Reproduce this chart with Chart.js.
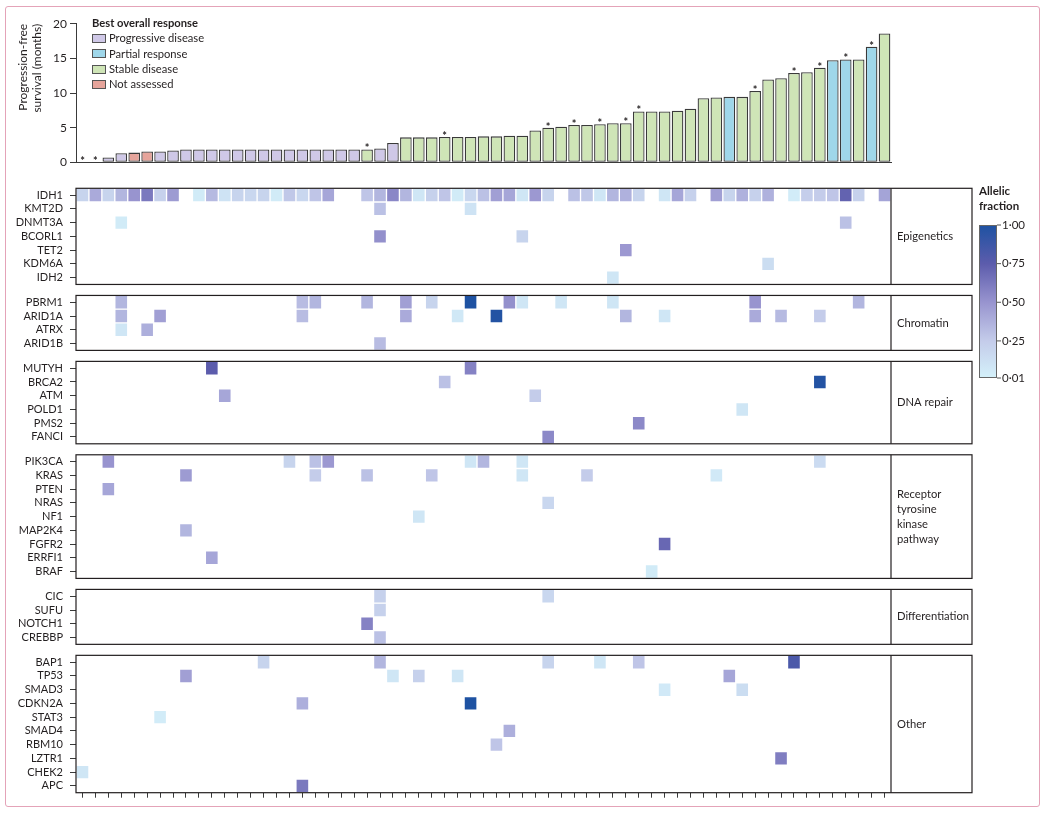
<!DOCTYPE html>
<html><head><meta charset="utf-8">
<script src="https://cdn.jsdelivr.net/npm/chart.js@4.4.1/dist/chart.umd.min.js"></script>
<style>
html,body{margin:0;padding:0;background:#fff;}
#wrap{position:relative;width:1050px;height:814px;overflow:hidden;font-family:Lato,"Liberation Sans",sans-serif;color:#231f20;}
#frame{position:absolute;left:5px;top:6px;width:1035px;height:801px;border:1.5px solid #e4a3b8;border-radius:3px;box-sizing:border-box;}
#c1{position:absolute;left:0;top:0;}
#c2{position:absolute;left:0;top:175px;}
.lg{position:absolute;font-size:11.2px;line-height:14px;white-space:nowrap;}
.lgbox{position:absolute;width:14px;height:9px;border:1px solid #555;box-sizing:border-box;}
</style></head>
<body>
<div id="wrap">
  <div id="frame"></div>
  <canvas id="c1" width="1050" height="175"></canvas>
  <canvas id="c2" width="1050" height="639"></canvas>
  <div id="legend"></div>
</div>
<script>
// ---------------- DATA ----------------
const patients = ['1','2','3','4','5','6','7','8','9','10','11','12','13','14','15','16','17','18','19','20','21','22','23','24','25','26','27','28','29','30','31','32','33','34','35','36','37','38','39','40','41','42','43','44','45','46','47','48','49','50','51','52','53','54','55','56','57','58','59','60','61','62','63'];
const pfsMonths = [0,0,0.7,1.3,1.4,1.55,1.55,1.7,1.85,1.85,1.85,1.85,1.85,1.85,1.85,1.85,1.85,1.85,1.85,1.85,1.85,1.85,1.85,2.0,2.8,
  3.6,3.6,3.6,3.65,3.65,3.65,3.75,3.75,3.85,3.85,4.6,5.0,5.15,5.4,5.4,5.5,5.65,5.65,7.35,7.35,7.35,7.45,7.75,
  9.25,9.35,9.45,9.45,10.3,11.95,12.15,12.9,13.0,13.65,14.75,14.85,14.85,16.7,18.6];
const bestResponse = ['PD','PD','PD','PD','NA','NA','PD','PD','PD','PD','PD','PD','PD','PD','PD','PD','PD','PD','PD','PD','PD','PD','SD','PD','PD',
  'SD','SD','SD','SD','SD','SD','SD','SD','SD','SD','SD','SD','SD','SD','SD','SD','SD','SD','SD','SD','SD','SD','SD',
  'SD','SD','PR','SD','SD','SD','SD','SD','SD','SD','PR','PR','SD','PR','SD'];
const starredPatients = [0,1,22,28,36,38,40,42,43,52,55,57,59,61];
const responseCodes = ['PD','PR','SD','NA'];
const responseNames = ['Progressive disease','Partial response','Stable disease','Not assessed'];
const responseColors = ['#cfc8e7','#9fd7ea','#cfe5b7','#e6a49b'];
const pfsTicks = [0,5,10,15,20];

// gene panels: [gene, patientIndex, allelic fraction]
const epigeneticsGenes = ['IDH1','KMT2D','DNMT3A','BCORL1','TET2','KDM6A','IDH2'];
const epigeneticsCells = [
 ['IDH1',0,.20],['IDH1',1,.40],['IDH1',2,.20],['IDH1',3,.35],['IDH1',4,.50],['IDH1',5,.62],['IDH1',6,.22],['IDH1',7,.47],
 ['IDH1',9,.05],['IDH1',10,.33],['IDH1',11,.10],['IDH1',12,.20],['IDH1',13,.18],['IDH1',14,.20],['IDH1',15,.05],['IDH1',16,.27],
 ['IDH1',17,.18],['IDH1',18,.28],['IDH1',19,.42],['IDH1',22,.28],['IDH1',23,.35],['IDH1',24,.56],['IDH1',25,.35],['IDH1',26,.08],
 ['IDH1',27,.22],['IDH1',28,.28],['IDH1',29,.05],['IDH1',30,.18],['IDH1',31,.30],['IDH1',32,.45],['IDH1',33,.42],['IDH1',34,.08],
 ['IDH1',35,.48],['IDH1',36,.20],['IDH1',38,.30],['IDH1',39,.27],['IDH1',40,.08],['IDH1',41,.35],['IDH1',42,.37],['IDH1',43,.20],
 ['IDH1',45,.08],['IDH1',46,.42],['IDH1',47,.22],['IDH1',49,.45],['IDH1',50,.20],['IDH1',51,.37],['IDH1',52,.22],['IDH1',53,.37],
 ['IDH1',55,.04],['IDH1',56,.24],['IDH1',57,.25],['IDH1',58,.28],['IDH1',59,.72],['IDH1',60,.22],['IDH1',62,.43],
 ['KMT2D',23,.30],['KMT2D',30,.10],['DNMT3A',3,.05],['DNMT3A',59,.30],['BCORL1',23,.52],['BCORL1',34,.20],
 ['TET2',42,.48],['KDM6A',53,.14],['IDH2',41,.08]
];
const chromatinGenes = ['PBRM1','ARID1A','ATRX','ARID1B'];
const chromatinCells = [
 ['PBRM1',3,.35],['PBRM1',17,.32],['PBRM1',18,.35],['PBRM1',22,.35],['PBRM1',25,.45],['PBRM1',27,.20],['PBRM1',30,1.0],
 ['PBRM1',33,.52],['PBRM1',34,.08],['PBRM1',37,.08],['PBRM1',41,.08],['PBRM1',52,.50],['PBRM1',60,.35],
 ['ARID1A',3,.35],['ARID1A',6,.45],['ARID1A',17,.32],['ARID1A',25,.40],['ARID1A',29,.07],['ARID1A',32,.98],['ARID1A',42,.35],
 ['ARID1A',45,.08],['ARID1A',52,.40],['ARID1A',54,.33],['ARID1A',57,.25],
 ['ATRX',3,.08],['ATRX',5,.38],['ARID1B',23,.32]
];
const dnaRepairGenes = ['MUTYH','BRCA2','ATM','POLD1','PMS2','FANCI'];
const dnaRepairCells = [
 ['MUTYH',10,.75],['MUTYH',30,.58],['BRCA2',28,.30],['BRCA2',57,.98],['ATM',11,.42],['ATM',35,.25],
 ['POLD1',51,.08],['PMS2',43,.55],['FANCI',36,.55]
];
const rtkGenes = ['PIK3CA','KRAS','PTEN','NRAS','NF1','MAP2K4','FGFR2','ERRFI1','BRAF'];
const rtkCells = [
 ['PIK3CA',2,.50],['PIK3CA',16,.20],['PIK3CA',18,.30],['PIK3CA',19,.48],['PIK3CA',30,.08],['PIK3CA',31,.35],['PIK3CA',34,.08],['PIK3CA',57,.15],
 ['KRAS',8,.47],['KRAS',18,.25],['KRAS',22,.30],['KRAS',27,.28],['KRAS',34,.08],['KRAS',39,.25],['KRAS',49,.06],
 ['PTEN',2,.42],['NRAS',36,.18],['NF1',26,.08],['MAP2K4',8,.35],['FGFR2',45,.70],['ERRFI1',10,.42],['BRAF',44,.05]
];
const differentiationGenes = ['CIC','SUFU','NOTCH1','CREBBP'];
const differentiationCells = [
 ['CIC',23,.22],['CIC',36,.18],['SUFU',23,.22],['NOTCH1',22,.58],['CREBBP',23,.30]
];
const otherGenes = ['BAP1','TP53','SMAD3','CDKN2A','STAT3','SMAD4','RBM10','LZTR1','CHEK2','APC'];
const otherCells = [
 ['BAP1',14,.20],['BAP1',23,.35],['BAP1',36,.20],['BAP1',40,.08],['BAP1',43,.28],['BAP1',55,.82],
 ['TP53',8,.45],['TP53',24,.08],['TP53',26,.22],['TP53',29,.08],['TP53',50,.42],
 ['SMAD3',45,.06],['SMAD3',51,.14],['CDKN2A',17,.38],['CDKN2A',30,1.0],['STAT3',6,.04],
 ['SMAD4',33,.38],['RBM10',32,.28],['LZTR1',54,.60],['CHEK2',0,.08],['APC',17,.62]
];
const panelNames = [['Epigenetics'],['Chromatin'],['DNA repair'],['Receptor','tyrosine','kinase','pathway'],['Differentiation'],['Other']];
const afTickValues = [1.00,0.75,0.50,0.25,0.01];
const afTickLabels = ['1·00','0·75','0·50','0·25','0·01'];
const afStops = [[0.01,[212,241,250]],[0.25,[196,204,234]],[0.50,[152,148,207]],[0.75,[92,92,172]],[1.00,[30,82,162]]];

// ---------------- HELPERS ----------------
const FONT = 'Lato, "Liberation Sans", sans-serif';
Chart.defaults.font.family = FONT;
Chart.defaults.color = '#231f20';
function afColor(v){
  if (v <= afStops[0][0]) return 'rgb('+afStops[0][1].join(',')+')';
  for (let i=1;i<afStops.length;i++){
    if (v <= afStops[i][0]){
      const [a,ca]=afStops[i-1],[b,cb]=afStops[i];const t=(v-a)/(b-a);
      return 'rgb('+ca.map((c,k)=>Math.round(c+(cb[k]-c)*t)).join(',')+')';
    }
  }
  return 'rgb('+afStops[afStops.length-1][1].join(',')+')';
}

// ---------------- LEGEND (HTML) ----------------
(function(){
  const lg=document.getElementById('legend');
  let h='<div class="lg" style="left:92px;top:16px;font-weight:bold;">Best overall response</div>';
  const ys=[38.3,53.5,69,84.2];
  responseNames.forEach((n,i)=>{
    h+='<div class="lgbox" style="left:92px;top:'+(ys[i]-4.5)+'px;background:'+responseColors[i]+'"></div>';
    h+='<div class="lg" style="left:109px;top:'+(ys[i]-7)+'px;">'+n+'</div>';
  });
  lg.innerHTML=h;
})();

// ---------------- BAR CHART ----------------
const starPlugin = {
  id:'stars',
  afterDatasetsDraw(chart){
    const {ctx, scales:{x,y}} = chart;
    ctx.save(); ctx.fillStyle='#231f20'; ctx.font='bold 11px '+FONT; ctx.textAlign='center'; ctx.textBaseline='alphabetic';
    starredPatients.forEach(i=>{ ctx.fillText('*', x.getPixelForValue(i), y.getPixelForValue(pfsMonths[i]) + 3); });
    ctx.restore();
  }
};
new Chart(document.getElementById('c1'), {
  type:'bar',
  data:{ labels: patients, datasets:[{
    data: pfsMonths,
    backgroundColor: bestResponse.map(r=>responseColors[responseCodes.indexOf(r)]),
    borderColor:'#3a3a3a', borderWidth:1.3, borderSkipped:false,
    barPercentage:0.9, categoryPercentage:1
  }]},
  options:{
    responsive:false, animation:false, events:[],
    layout:{padding:{left:0,right:159,top:23.8,bottom:0}},
    plugins:{legend:{display:false}, tooltip:{enabled:false}},
    scales:{
      x:{ type:'category', offset:true, grid:{display:false}, ticks:{display:false},
          border:{display:true,color:'#3a3a3a',width:1}, afterFit(s){ s.height = 12.7; } },
      y:{ min:0, max:20, afterBuildTicks(s){ s.ticks = pfsTicks.map(v=>({value:v})); },
          ticks:{ font:{size:12}, padding:3, color:'#231f20' },
          grid:{ drawOnChartArea:false, tickLength:6, tickColor:'#3a3a3a' },
          border:{ display:true, color:'#3a3a3a', width:1 },
          title:{ display:true, text:['Progression-free','survival (months)'], align:'end', font:{size:12}, padding:{top:16,bottom:0}, color:'#231f20' },
          afterFit(s){ s.width = 76; } }
    }
  },
  plugins:[starPlugin]
});

// ---------------- HEATMAP ----------------
const panels = [
  {genes:epigeneticsGenes, cells:epigeneticsCells},
  {genes:chromatinGenes, cells:chromatinCells},
  {genes:dnaRepairGenes, cells:dnaRepairCells},
  {genes:rtkGenes, cells:rtkCells},
  {genes:differentiationGenes, cells:differentiationCells},
  {genes:otherGenes, cells:otherCells}
];
const GAP = 0.8;
const rowPos = {}; const panelRanges = []; const allGenes = [];
let u = 0;
panels.forEach((p,pi)=>{ if(pi>0) u+=GAP; const s=u; p.genes.forEach(g=>{rowPos[g]=u; allGenes.push(g); u+=1;}); panelRanges.push([s,u]); });
const TOTAL = u;
const heatDatasets = [];
panels.forEach(p=>{
  p.genes.forEach(g=>{
    const data = patients.map(()=>null); const colors = patients.map(()=> 'rgba(0,0,0,0)');
    p.cells.filter(c=>c[0]===g).forEach(c=>{ data[c[1]] = [rowPos[g], rowPos[g]+1]; colors[c[1]] = afColor(c[2]); });
    heatDatasets.push({ label:g, data, backgroundColor:colors, borderColor:'rgba(255,255,255,0.55)', borderWidth:1, borderSkipped:false,
      grouped:false, barPercentage:1, categoryPercentage:1 });
  });
});

const panelPlugin = {
  id:'panels',
  afterDraw(chart){
    const {ctx, chartArea:ca, scales:{y}} = chart;
    const boxRight = ca.right + 81;
    ctx.save();
    ctx.strokeStyle='#231f20'; ctx.lineWidth=1.2;
    panelRanges.forEach((r,i)=>{
      const t=y.getPixelForValue(r[0]), b=y.getPixelForValue(r[1]);
      ctx.strokeRect(ca.left, t, boxRight-ca.left, b-t);
      ctx.beginPath(); ctx.moveTo(ca.right,t); ctx.lineTo(ca.right,b); ctx.stroke();
      const lines = panelNames[i]; const lh=15; const mid=(t+b)/2;
      ctx.fillStyle='#231f20'; ctx.font='11.2px '+FONT; ctx.textAlign='left'; ctx.textBaseline='middle';
      lines.forEach((ln,k)=>ctx.fillText(ln, ca.right+6, mid + (k-(lines.length-1)/2)*lh));
    });
    // colour bar
    const cbL=979, cbR=997, cbT=50, cbB=203;
    const grad = ctx.createLinearGradient(0,cbB,0,cbT);
    afStops.forEach(s=>grad.addColorStop((s[0]-0.01)/0.99, 'rgb('+s[1].join(',')+')'));
    ctx.fillStyle=grad; ctx.fillRect(cbL,cbT,cbR-cbL,cbB-cbT);
    ctx.strokeStyle='#666'; ctx.lineWidth=1; ctx.strokeRect(cbL+0.5,cbT+0.5,cbR-cbL-1,cbB-cbT-1);
    ctx.fillStyle='#231f20'; ctx.font='bold 11.5px '+FONT; ctx.textAlign='left'; ctx.textBaseline='middle';
    ctx.fillText('Allelic', cbL, 16); ctx.fillText('fraction', cbL, 31);
    ctx.font='11.5px '+FONT;
    afTickValues.forEach((v,i)=>{
      const yy = cbB - (v-0.01)/0.99*(cbB-cbT);
      ctx.beginPath(); ctx.moveTo(cbR,yy); ctx.lineTo(cbR+4,yy); ctx.strokeStyle='#555'; ctx.stroke();
      ctx.fillText(afTickLabels[i], cbR+5, yy);
    });
    ctx.restore();
  }
};

new Chart(document.getElementById('c2'), {
  type:'bar',
  data:{ labels:patients, datasets:heatDatasets },
  options:{
    responsive:false, animation:false, events:[],
    layout:{padding:{left:0,right:159,top:13.3,bottom:0}},
    plugins:{legend:{display:false}, tooltip:{enabled:false}},
    scales:{
      x:{ type:'category', offset:true, grid:{offset:false, drawOnChartArea:false, tickLength:5, tickColor:'#3a3a3a'},
          ticks:{display:false}, border:{display:false}, afterFit(s){ s.height = 21.3; } },
      y:{ type:'linear', reverse:true, min:0, max:TOTAL,
          afterBuildTicks(s){ s.ticks = allGenes.map(g=>({value:rowPos[g]+0.5})); },
          ticks:{ autoSkip:false, padding:4, font:{size:11}, color:'#231f20', callback:(v,i)=>allGenes[i] },
          grid:{ drawOnChartArea:false, tickLength:9, tickColor:'#3a3a3a', tickBorderDash:[6,3], tickBorderDashOffset:6 },
          border:{display:false}, afterFit(s){ s.width = 76; } }
    }
  },
  plugins:[panelPlugin]
});
</script>
</body></html>
